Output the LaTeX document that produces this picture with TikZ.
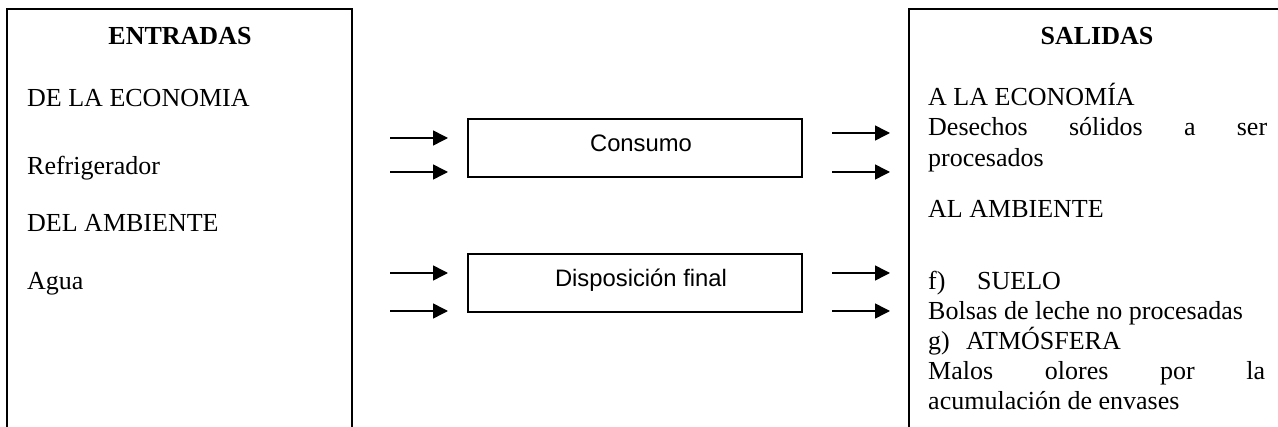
\documentclass[tikz,border=0pt]{standalone}
\usepackage{fontspec}
\setmainfont{Liberation Serif}
\newfontfamily\arialf{Liberation Sans}
\usetikzlibrary{arrows.meta}
\begin{document}
\begin{tikzpicture}[x=1pt,y=-1pt,
  txt/.style={anchor=base west,inner sep=0pt,font=\fontsize{26}{30}\selectfont},
  head/.style={anchor=base,inner sep=0pt,font=\fontsize{26}{30}\selectfont\bfseries},
  frame/.style={line width=2pt},
  procbox/.style={draw,line width=2pt,minimum width=334pt,minimum height=58pt,inner sep=0pt,
    text height=17pt,text depth=9pt,font=\arialf\fontsize{23.8}{28}\selectfont},
  flow/.style={line width=1.5pt,-{Triangle[length=15pt,width=15pt]}}]
\useasboundingbox (0,0) rectangle (1278,427);
% frames (open at the bottom)
\draw[frame] (7,430) -- (7,9) -- (352,9) -- (352,430);
\draw[frame] (909,430) -- (909,9) -- (1285,9);
% left texts
\node[head] (ent) at (180,45) {ENTRADAS};
\node[txt] (deeco) at (27,107) {DE LA ECONOMIA};
\node[txt] (refri) at (27,175) {Refrigerador};
\node[txt] (delamb) at (27,232) {DEL AMBIENTE};
\node[txt] (agua) at (27,290) {Agua};
% process boxes
\node[procbox] (cons) at (635,148) {\hspace*{12pt}Consumo};
\node[procbox] (disp) at (635,283) {\hspace*{12pt}Disposición final};
% arrows
\coordinate (a1s) at (390,138); \coordinate (a1e) at (448,138);
\coordinate (a2s) at (390,172); \coordinate (a2e) at (448,172);
\coordinate (a3s) at (390,273); \coordinate (a3e) at (448,273);
\coordinate (a4s) at (390,311); \coordinate (a4e) at (448,311);
\coordinate (b1s) at (832,133); \coordinate (b1e) at (890,133);
\coordinate (b2s) at (832,172); \coordinate (b2e) at (890,172);
\coordinate (b3s) at (832,273); \coordinate (b3e) at (890,273);
\coordinate (b4s) at (832,311); \coordinate (b4e) at (890,311);
\draw[flow] (a1s) -- (a1e);
\draw[flow] (a2s) -- (a2e);
\draw[flow] (a3s) -- (a3e);
\draw[flow] (a4s) -- (a4e);
\draw[flow] (b1s) -- (b1e);
\draw[flow] (b2s) -- (b2e);
\draw[flow] (b3s) -- (b3e);
\draw[flow] (b4s) -- (b4e);
% right texts
\node[head] (sal) at (1097,45) {SALIDAS};
\node[txt] (alaeco) at (928,106) {A LA ECONOMÍA};
\node[txt] (des) at (928,136) {\makebox[339pt][s]{Desechos\hfill sólidos\hfill a\hfill ser}};
\node[txt] (proc) at (928,167) {procesados};
\node[txt] (alamb) at (928,218) {AL AMBIENTE};
\node[txt] (fl) at (928,290) {f)};
\node[txt] (suelo) at (977,290) {SUELO};
\node[txt] (bols) at (928,320) {Bolsas de leche no procesadas};
\node[txt] (gl) at (928,350) {g)};
\node[txt] (atm) at (966,350) {ATMÓSFERA};
\node[txt] (malos) at (928,380) {\makebox[337pt][s]{Malos\hfill olores\hfill por\hfill la}};
\node[txt] (acum) at (928,410) {acumulación de envases};
\end{tikzpicture}
\end{document}
